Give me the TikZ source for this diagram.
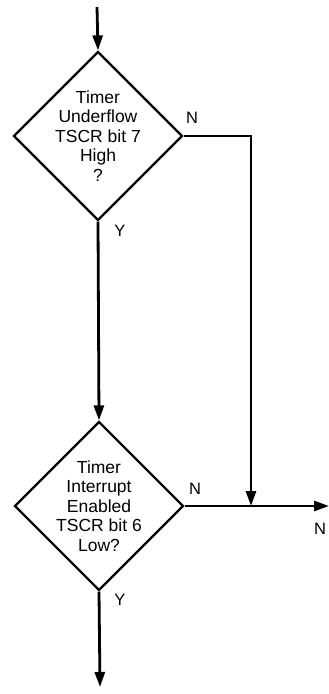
\documentclass[tikz,border=0pt]{standalone}
\usepackage{fontspec}
\setmainfont{Liberation Sans}
\usetikzlibrary{shapes.geometric,arrows.meta}
\begin{document}
\begin{tikzpicture}[x=1pt,y=-1pt,
  dec/.style={diamond, draw, line width=2.2pt, minimum width=169pt, minimum height=169pt, inner sep=0pt, aspect=1},
  flow/.style={line width=2.8pt, -{Triangle[length=15pt,width=10pt]}},
  lbl/.style={font=\fontsize{17.5}{19.5}\selectfont, align=center, inner sep=0pt},
  yn/.style={font=\fontsize{16.5}{18}\selectfont, inner sep=0pt}]
\useasboundingbox (0,0) rectangle (329,694);
\node[dec] (d1) at (98,136) {};
\node[lbl] (t1) at (98,136) {Timer\\Underflow\\TSCR bit 7\\High\\?};
\node[dec] (d2) at (99,506) {};
\node[lbl] (t2) at (99,506) {Timer\\Interrupt\\Enabled\\TSCR bit 6\\Low?};
\coordinate (start) at (97,7);
\coordinate (c1) at (251,136);
\coordinate (j) at (251,506);
\coordinate (out) at (329,506);
\coordinate (end) at (100,687);
\draw[flow] (start) -- (d1.north);
\draw[flow] (d1.south) -- (d2.north);
\draw[flow] (d1.east) -- (c1) -- (j);
\draw[flow] (d2.east) -- (out);
\draw[flow] (d2.south) -- (end);
\node[yn] (n1) at (192,118) {N};
\node[yn] (y1) at (120,231) {Y};
\node[yn] (n2) at (195,489) {N};
\node[yn] (n3) at (320,529) {N};
\node[yn] (y2) at (120,600) {Y};
\end{tikzpicture}
\end{document}
